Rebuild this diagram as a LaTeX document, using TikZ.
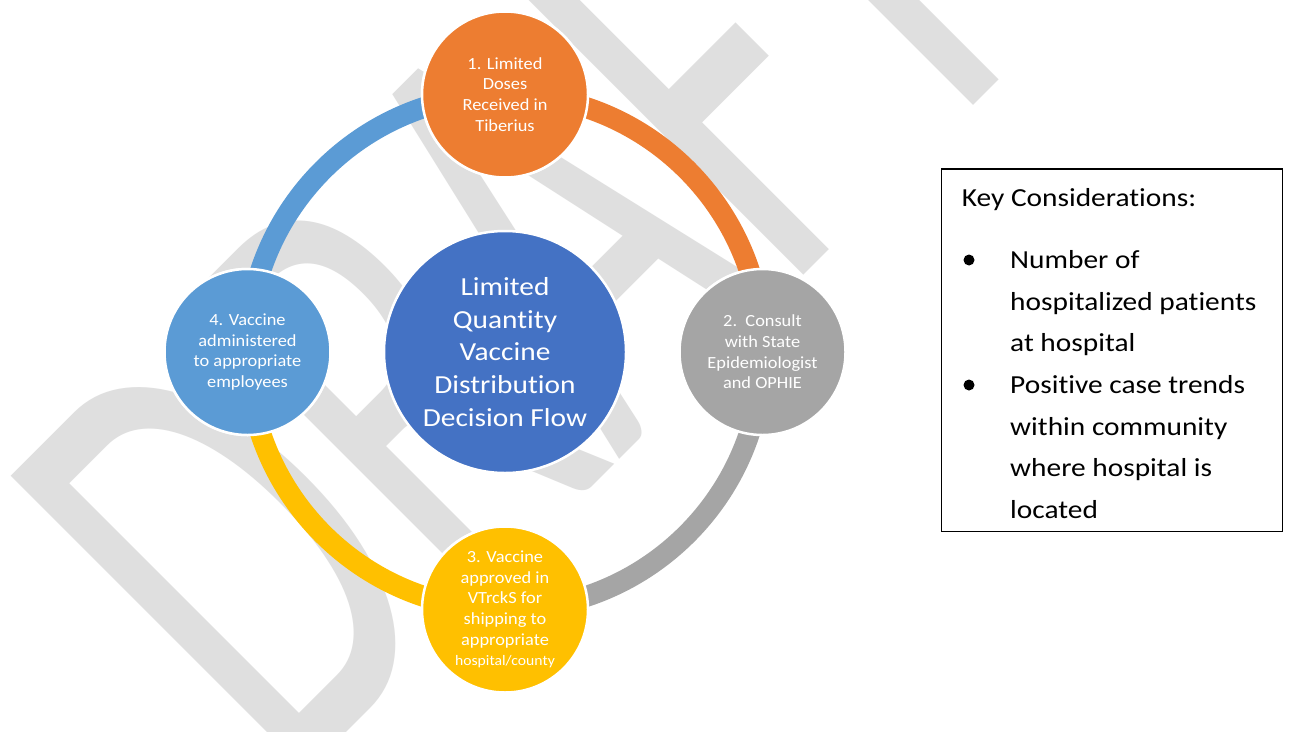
\documentclass[tikz,border=0pt]{standalone}
\usepackage{fontspec}
\setmainfont{Carlito}[Ligatures=NoCommon]
\newfontfamily\markfont{Carlito}[Ligatures=NoCommon]
\newfontfamily\widefont{Carlito}[Ligatures=NoCommon, FakeStretch=1.13]
\newfontfamily\satfont{Carlito}[Ligatures=NoCommon, FakeStretch=1.08]
\usepackage{graphicx}
\definecolor{cOne}{HTML}{ED7D31}
\definecolor{cTwo}{HTML}{A5A5A5}
\definecolor{cThree}{HTML}{FFC000}
\definecolor{cFour}{HTML}{5B9BD5}
\definecolor{cHub}{HTML}{4472C4}
\definecolor{cMark}{HTML}{DFDFDF}
\begin{document}
\begin{tikzpicture}[x=1pt,y=-1pt,
  sat/.style={circle, draw=white, line width=2.5pt, minimum size=166pt, inner sep=0pt,
    text=white, align=center, font=\satfont\fontsize{17}{20.7}\selectfont},
  hub/.style={circle, draw=white, line width=2.5pt, minimum size=242pt, inner sep=0pt,
    fill=cHub, text=white, align=center, font=\widefont\fontsize{26}{32.6}\selectfont},
  ringarc/.style={line width=21pt},
  keyline/.style={anchor=base west, inner sep=0pt, font=\widefont\fontsize{26}{41.7}\selectfont},
  keydot/.style={circle, fill=black, inner sep=0pt, minimum size=11pt}]
\useasboundingbox (0,0) rectangle (1289,731);
\fill[white] (0,0) rectangle (1289,731);
\begin{scope}
\clip (0,0) rectangle (1289,731);
% watermark
\node[rotate=45, anchor=base west, inner sep=0pt, text=cMark] (mark) at (287,792)
  {\scalebox{1}[1.61]{\markfont\fontsize{405}{405}\selectfont DRAFT}};
\end{scope}
% nodes
\node[hub] (hub) at (505,352) {Limited\\Quantity\\Vaccine\\Distribution\\Decision Flow};
\node[sat, fill=cOne] (n1) at (505,94.5) {};
\node[sat, fill=cTwo] (n2) at (762.5,352) {};
\node[sat, fill=cThree] (n3) at (505,609.5) {};
\node[sat, fill=cFour] (n4) at (247.5,352) {};
% arcs
\draw[ringarc, cOne] (n1.center) arc[start angle=90, end angle=0, radius=257.5pt];
\draw[ringarc, cTwo] (n2.center) arc[start angle=0, end angle=-90, radius=257.5pt];
\draw[ringarc, cThree] (n3.center) arc[start angle=-90, end angle=-180, radius=257.5pt];
\draw[ringarc, cFour] (n4.center) arc[start angle=180, end angle=90, radius=257.5pt];
% satellites on top
\node[sat, fill=cOne] (s1) at (n1) {1. Limited\\Doses\\Received in\\Tiberius};
\node[sat, fill=cTwo] (s2) at (n2) {2.\ \ Consult\\with State\\Epidemiologist\\and OPHIE};
\node[sat, fill=cThree] (s3) at (n3) {3. Vaccine\\approved in\\VTrckS for\\shipping to\\appropriate\\{\fontsize{14.5}{20.5}\selectfont hospital/county}};
\node[sat, fill=cFour] (s4) at (n4) {4. Vaccine\\administered\\to appropriate\\employees};
% key box
\node[draw=black, line width=1.2pt, minimum width=340.7pt, minimum height=362.4pt,
  anchor=north west, inner sep=0pt] (key) at (941,168.3) {};
\node[keyline] (kt) at (961.7,206.7) {Key Considerations:};
\node[keydot] (d1) at (969,260) {};
\node[keyline] (k1) at (1010,268.3) {Number of};
\node[keyline] (k2) at (1010,310) {hospitalized patients};
\node[keyline] (k3) at (1010,351.7) {at hospital};
\node[keydot] (d2) at (969,385) {};
\node[keyline] (k4) at (1010,393.3) {Positive case trends};
\node[keyline] (k5) at (1010,435) {within community};
\node[keyline] (k6) at (1010,476.7) {where hospital is};
\node[keyline] (k7) at (1010,518.3) {located};
\end{tikzpicture}
\end{document}
